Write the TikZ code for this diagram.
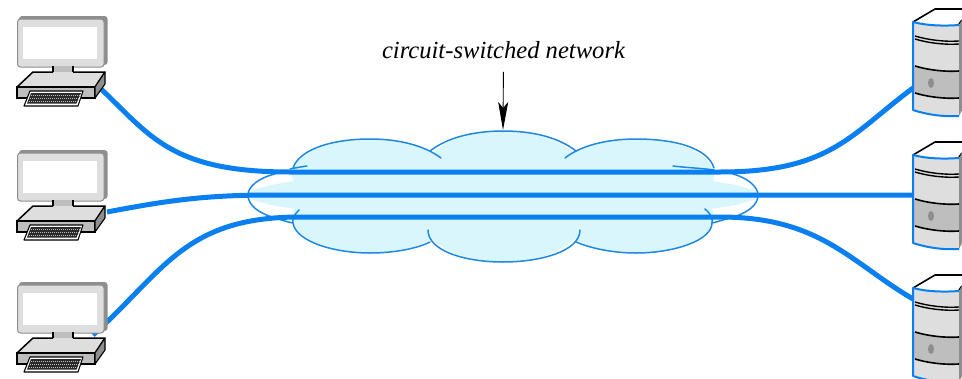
\documentclass[tikz,border=0pt]{standalone}
\usepackage{fontspec}
\setmainfont{Liberation Serif}
\usetikzlibrary{arrows.meta}
\definecolor{netblue}{HTML}{0A7FEF}
\definecolor{cloudfill}{HTML}{DAF6FD}
\definecolor{cloudline}{HTML}{1E88E5}
\definecolor{lgray}{HTML}{DEDEDE}
\definecolor{mgray}{HTML}{BEBEBE}
\definecolor{dgray}{HTML}{8E8E8E}
\definecolor{keygray}{HTML}{2A2A2A}
\tikzset{
  x=1pt,y=-1pt,
  link/.style={draw=netblue,line width=5pt},
  lobe/.style={draw=cloudline,line width=1.5pt,line cap=round},
  lobefill/.style={fill=cloudfill,draw=none},
  outl/.style={draw=black,line width=1.5pt,line join=round},
  keyrow/.style={draw=mgray,line width=1pt,dash pattern=on 1pt off 1pt},
  computer/.pic={
    \fill[dgray,rounded corners=3pt] (19,16) rectangle (107.5,65);
    \fill[lgray,draw=dgray,line width=1pt,rounded corners=3pt] (17.5,19) rectangle (104,67);
    \fill[white] (23,27) rectangle (97,59);
    \fill[mgray] (53,66) rectangle (73,80);
    \draw[outl] (53,66) -- (53,80) (73,66) -- (73,80);
    \fill[lgray] (17,87) -- (33,72) -- (105,72) -- (95,87) -- cycle;
    \draw[outl] (53,72) -- (33,72) -- (17,87) -- (95,87) -- (105,72) -- (73,72);
    \fill[mgray,draw=black,line width=1.1pt] (17,87) rectangle (95,98);
    \fill[dgray,draw=black,line width=1.1pt,line join=round] (95,87) -- (105,72) -- (105,84) -- (95,98) -- cycle;
    \fill[white,draw=black,line width=1.1pt,line join=round] (30,91) -- (83,91) -- (78,106) -- (24,106) -- cycle;
    \fill[keygray] (31,93) -- (81,93) -- (76.5,103.5) -- (27,103.5) -- cycle;
    \draw[keyrow] (31,95) -- (79.5,95);
    \draw[keyrow] (30,98) -- (78.5,98);
    \draw[keyrow] (29,101) -- (77.5,101);
  },
  server/.pic={
    \fill[white] (913,22) -- (935,9) -- (962,9) -- (962,24) -- cycle;
    \draw[outl,line width=1.6pt] (913,22) -- (935,9) -- (962,9);
    \draw[outl,line width=1.6pt] (959,24) -- (962,20);
    \fill[lgray] (913,22) .. controls (928,26) and (945,26) .. (959,25) -- (959,116) .. controls (945,117) and (928,115) .. (913,110) -- cycle;
    \fill[mgray] (913,66) .. controls (928,70) and (945,71.5) .. (959,71) -- (959,98) .. controls (945,98.5) and (928,97) .. (913,93) -- cycle;
    \fill[dgray] (959,25) -- (962,20) -- (962,110) -- (959,116) -- cycle;
    \draw[black,line width=1.4pt] (915,36) .. controls (928,40) and (945,42) .. (959,41);
    \draw[black,line width=1.4pt] (915,39) .. controls (928,43) and (945,45) .. (959,44);
    \draw[black,line width=1.6pt] (915,66) .. controls (928,70) and (945,72) .. (959,71);
    \draw[black,line width=1.6pt] (915,93) .. controls (928,97) and (945,99) .. (959,98);
    \fill[dgray] (931,83) ellipse (3pt and 5pt);
    \draw[netblue,line width=2pt,line join=round] (959,25) .. controls (945,26) and (928,26) .. (913,22) -- (913,110) .. controls (928,115) and (945,117) .. (959,116);
  },
}
\begin{document}
\begin{tikzpicture}
\useasboundingbox (0,0) rectangle (962,378);
% cloud
\fill[lobefill] (503,195) ellipse (255pt and 24pt)
  (370,175) ellipse (78pt and 36pt)
  (503,170) ellipse (78pt and 39pt)
  (636,175) ellipse (78pt and 36pt)
  (370,217) ellipse (78pt and 36pt)
  (503,222) ellipse (78pt and 40pt)
  (636,217) ellipse (78pt and 36pt);
\draw[lobe] (293,168) .. controls (300,148) and (335,139) .. (370,139) .. controls (400,139) and (425,146) .. (441,158);
\draw[lobe] (430,151) .. controls (448,137) and (475,131) .. (503,131) .. controls (532,131) and (558,137) .. (576,151);
\draw[lobe] (565,158) .. controls (580,146) and (606,139) .. (636,139) .. controls (675,139) and (708,148) .. (714,168);
\draw[lobe] (307,166) .. controls (300,167) and (295,168) .. (290,169);
\draw[lobe] (673,166) .. controls (690,168) and (700,168) .. (714,170);
\draw[lobe] (275,174) .. controls (258,178) and (248,187) .. (248,195) .. controls (248,205) and (258,213) .. (275,218) .. controls (282,220) and (287,222) .. (293,223);
\draw[lobe] (733,174) .. controls (748,178) and (758,187) .. (758,195) .. controls (758,205) and (748,213) .. (730,218) .. controls (722,220) and (717,222) .. (712,223);
\draw[lobe] (299,210) .. controls (295,214) and (292,218) .. (293,223) .. controls (296,242) and (335,253) .. (370,253) .. controls (396,253) and (418,248) .. (430,242);
\draw[lobe] (428,230) .. controls (428,251) and (465,262) .. (503,262) .. controls (541,262) and (580,251) .. (580,230);
\draw[lobe] (576,242) .. controls (590,248) and (612,253) .. (636,253) .. controls (675,253) and (712,240) .. (712,223) .. controls (713,218) and (710,213) .. (705,209);
% label and arrow
\node[inner sep=0pt,font=\itshape\fontsize{24.6}{27}\selectfont] (lab) at (503.5,50) {circuit-switched network};
\coordinate (cloudtop) at (503,130);
\draw[black,line width=0.9pt,-{Stealth[length=28pt,width=10pt,inset=6pt]},shorten <=13pt] (lab.south) -- (cloudtop);
% connector ends
\coordinate (c1) at (100,88);
\coordinate (c2) at (107,212);
\coordinate (c3) at (93,335);
\coordinate (s1) at (913,88);
\coordinate (s2) at (913,195);
\coordinate (s3) at (913,299);
\draw[link] (c1) .. controls (150,135) and (170,172) .. (290,172) -- (720,172) .. controls (830,172) and (850,135) .. (s1);
\draw[link] (c2) .. controls (160,202) and (200,195) .. (270,195) -- (s2);
\draw[link] (c3) .. controls (165,270) and (185,217) .. (300,217) -- (720,217) .. controls (820,217) and (850,262) .. (s3);
% machines
\pic at (0,0) {computer};
\pic at (0,134) {computer};
\pic at (0,266) {computer};
\pic at (0,0) {server};
\pic at (0,133) {server};
\pic at (0,266) {server};
\end{tikzpicture}
\end{document}
